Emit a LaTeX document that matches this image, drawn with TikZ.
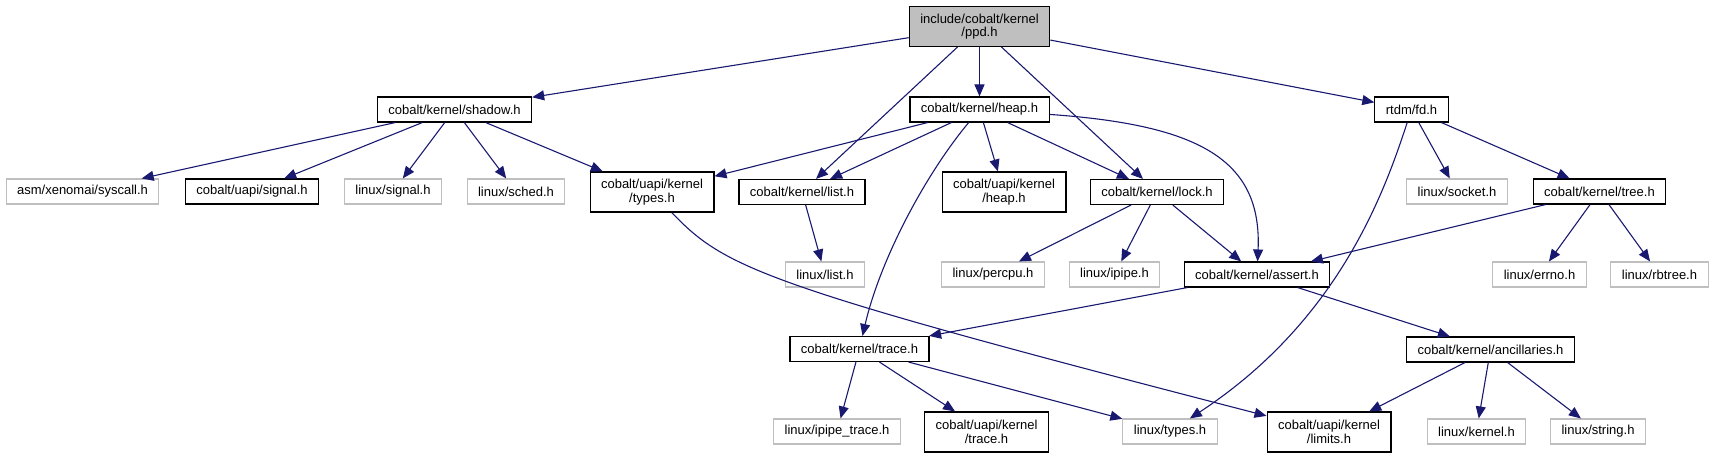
\documentclass[tikz,border=0pt]{standalone}
\usepackage{fontspec}
\setmainfont{Liberation Sans}
\usetikzlibrary{arrows.meta}
\definecolor{edgeblue}{HTML}{191970}

\begin{document}
\begin{tikzpicture}[x=0.5pt, y=-0.5pt,
  >={Triangle[length=6pt,width=5pt]},
  file/.style={rectangle, draw=black, line width=0.55pt, fill=white,
    font=\fontsize{6.5}{6.8}\selectfont, inner xsep=5.5pt, inner ysep=0pt,
    minimum height=12.5pt, align=center},
  sys/.style={file, draw=gray!50},
  root/.style={file, fill=gray!50},
  twoline/.style={minimum height=20pt},
  dep/.style={->, draw=edgeblue, line width=0.55pt}]

\useasboundingbox (0,0) rectangle (1713,459);

% Root file
\node[root, twoline] (ppd) at (979.5,26.5) {include/cobalt/kernel\\/ppd.h};

% Direct includes
\node[file] (shadow) at (454.5,109.5) {cobalt/kernel/shadow.h};
\node[file] (heap) at (979.5,109.5) {cobalt/kernel/heap.h};
\node[file] (fd) at (1411.5,109.5) {rtdm/fd.h};

% Second row
\node[sys] (syscall) at (82.5,191.5) {asm/xenomai/syscall.h};
\node[file] (usignal) at (252,191.5) {cobalt/uapi/signal.h};
\node[sys] (lsignal) at (393,191.5) {linux/signal.h};
\node[sys] (sched) at (516,191.5) {linux/sched.h};
\node[file, twoline] (types) at (652,192) {cobalt/uapi/kernel\\/types.h};
\node[file] (list) at (802,192) {cobalt/kernel/list.h};
\node[file, twoline] (uheap) at (1004,192) {cobalt/uapi/kernel\\/heap.h};
\node[file] (lock) at (1157,192) {cobalt/kernel/lock.h};
\node[sys] (socket) at (1457,191.5) {linux/socket.h};
\node[file] (tree) at (1599.5,191.5) {cobalt/kernel/tree.h};

% Third row
\node[sys] (llist) at (825,274.5) {linux/list.h};
\node[sys] (percpu) at (993,274.5) {linux/percpu.h};
\node[sys] (ipipe) at (1114.5,274.5) {linux/ipipe.h};
\node[file] (assert) at (1257,274.5) {cobalt/kernel/assert.h};
\node[sys] (errno) at (1539.5,274.5) {linux/errno.h};
\node[sys] (rbtree) at (1659.5,274.5) {linux/rbtree.h};

% Fourth row
\node[file] (trace) at (859.5,349) {cobalt/kernel/trace.h};
\node[file] (ancil) at (1490.5,349.5) {cobalt/kernel/ancillaries.h};

% Bottom row
\node[sys] (ipipetrace) at (837,431.5) {linux/ipipe\_trace.h};
\node[file, twoline] (utrace) at (986.5,432) {cobalt/uapi/kernel\\/trace.h};
\node[sys] (ltypes) at (1170,431.5) {linux/types.h};
\node[file, twoline] (limits) at (1329,432) {cobalt/uapi/kernel\\/limits.h};
\node[sys] (lkernel) at (1476.5,431.5) {linux/kernel.h};
\node[sys] (lstring) at (1598,431.5) {linux/string.h};

% Straight includes
\foreach \a/\b in {ppd/shadow, ppd/list, ppd/heap, ppd/lock, ppd/fd,
  shadow/syscall, shadow/usignal, shadow/lsignal, shadow/sched, shadow/types,
  heap/types, heap/list, heap/uheap, heap/lock,
  fd/socket, fd/tree, list/llist,
  lock/percpu, lock/ipipe, lock/assert,
  tree/assert, tree/errno, tree/rbtree,
  assert/trace, assert/ancil,
  trace/ipipetrace, trace/utrace, trace/ltypes,
  ancil/limits, ancil/lkernel, ancil/lstring} {
  \draw[dep] (\a) -- (\b);
}

% Curved includes
\draw[dep] (heap) .. controls (925,175) and (880,260) .. (trace);
\draw[dep] (heap) .. controls (1200,125) and (1262,160) .. (assert);
\draw[dep] (fd) .. controls (1385,190) and (1340,320) .. (ltypes);
\draw[dep] (types) .. controls (725,268) and (760,285) .. (limits);

\end{tikzpicture}
\end{document}
